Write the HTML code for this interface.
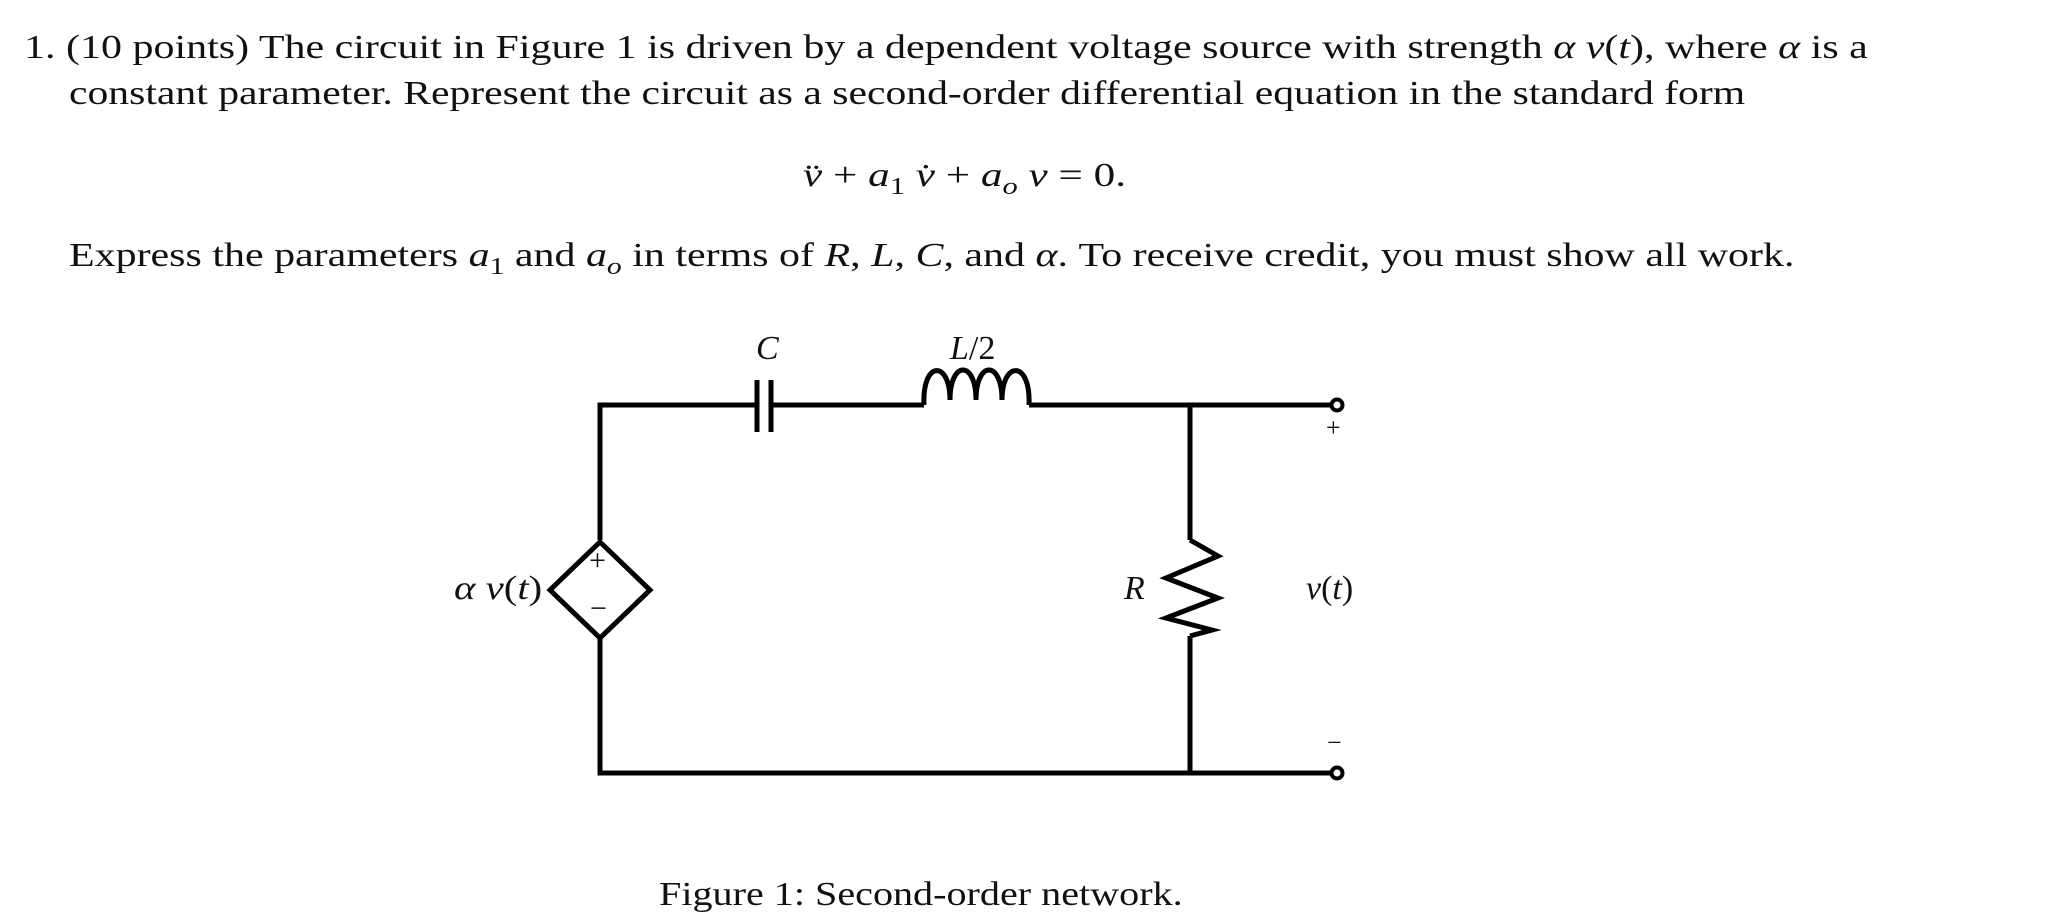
<!DOCTYPE html>
<html><head><meta charset="utf-8"><style>
body{margin:0;background:#fff;width:2055px;height:912px;overflow:hidden;font-family:"Liberation Serif",serif;color:#111}
.t{position:absolute;white-space:nowrap;font-size:34px;transform-origin:0 0}
i{font-style:italic}
</style></head><body>
<div class="t" style="left:24px;top:29px;transform:scaleX(1.235)">1. (10 points) The circuit in Figure 1 is driven by a dependent voltage source with strength <i>α v</i>(<i>t</i>), where <i>α</i> is a</div>
<div class="t" style="left:69px;top:75px;transform:scaleX(1.225)">constant parameter. Represent the circuit as a second-order differential equation in the standard form</div>
<div class="t" style="left:803px;top:157px;transform:scaleX(1.27)"><i>v̈</i> + <i>a</i><sub style="font-size:24px">1</sub> <i>v̇</i> + <i>a<sub style="font-size:24px">o</sub></i> <i>v</i> = 0.</div>
<div class="t" style="left:69px;top:237px;transform:scaleX(1.234)">Express the parameters <i>a</i><sub style="font-size:24px">1</sub> and <i>a<sub style="font-size:24px">o</sub></i> in terms of <i>R</i>, <i>L</i>, <i>C</i>, and <i>α</i>. To receive credit, you must show all work.</div>
<svg width="2055" height="912" style="position:absolute;left:0;top:0" fill="none" stroke="#000" stroke-width="5">
<path d="M600 540V405H757M771 405H924M1029 405H1330M1190 405V540M1190 636V773M600 638V773H1330"/>
<path d="M757 380V432M771 380V432"/>
<path d="M924 405 C922 360 950 360 950 400 C950 360 976 360 976 400 C976 360 1002 360 1002 400 C1002 360 1031 360 1029 405"/>
<path d="M1190 540 L1218 556 L1166 578 L1218 598 L1166 618 L1212 630 L1190 636"/>
<path d="M600 542 L650 590 L600 638 L550 590 Z"/>
<circle cx="1337" cy="405" r="5.5" fill="#fff" stroke-width="4"/>
<circle cx="1337" cy="773" r="5.5" fill="#fff" stroke-width="4"/>
</svg>
<div class="t" style="left:589px;top:544px;font-size:30px">+</div>
<div class="t" style="left:590px;top:592px;font-size:30px">−</div>
<div class="t" style="left:1326px;top:413px;font-size:26px">+</div>
<div class="t" style="left:1327px;top:728px;font-size:26px">−</div>
<div class="t" style="left:756px;top:330px;font-size:34px"><i>C</i></div>
<div class="t" style="left:950px;top:330px;font-size:34px"><i>L</i>/2</div>
<div class="t" style="left:1124px;top:570px;font-size:34px"><i>R</i></div>
<div class="t" style="left:1306px;top:570px;font-size:34px"><i>v</i>(<i>t</i>)</div>
<div class="t" style="left:454px;top:570px;font-size:34px;transform:scaleX(1.2)"><i>α v</i>(<i>t</i>)</div>
<div class="t" style="left:659px;top:876px;transform:scaleX(1.18)">Figure 1: Second-order network.</div>
</body></html>
